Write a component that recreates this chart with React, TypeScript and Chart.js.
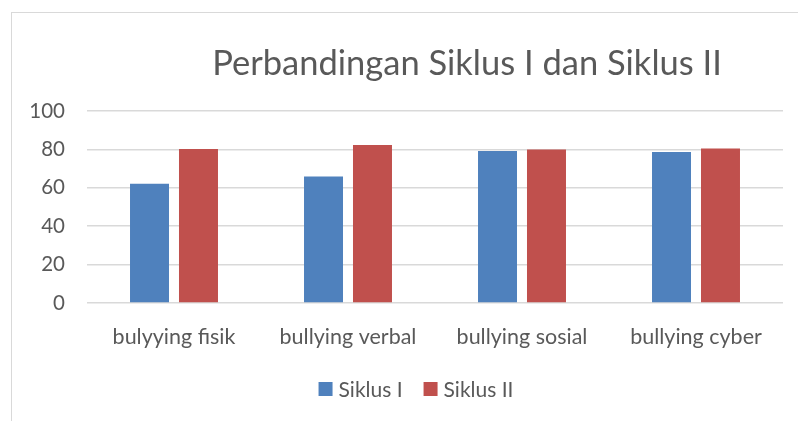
import { useEffect, useRef } from "react";
import { Chart, registerables } from "chart.js";
Chart.register(...registerables);

const categories = ["bulyying fisik", "bullying verbal", "bullying sosial", "bullying cyber"];
const siklusI = [62.1, 65.9, 79.2, 78.6];
const siklusII = [80.2, 82.3, 80.0, 80.5];
const seriesNames = ["Siklus I", "Siklus II"];
const seriesColors = ["#4F81BD", "#C0504D"];
const titleText = "Perbandingan Siklus I dan Siklus II";

const FONT = "Lato";
const TEXT = "#595959";

const decorPlugin = {
  id: "decor",
  beforeDraw(chart: any) {
    const ctx = chart.ctx;
    ctx.save();
    ctx.fillStyle = "#ffffff";
    ctx.fillRect(0, 0, chart.width, chart.height);
    ctx.strokeStyle = "#d9d9d9";
    ctx.lineWidth = 1;
    ctx.strokeRect(11.5, 12.5, 1000, 600);
    ctx.restore();
  },
  afterDraw(chart: any) {
    const ctx = chart.ctx;
    ctx.save();
    // title
    ctx.fillStyle = TEXT;
    ctx.font = `34.5px ${FONT}`;
    ctx.textAlign = "center";
    ctx.textBaseline = "alphabetic";
    ctx.fillText(titleText, 467, 75);
    // legend
    ctx.font = `21px ${FONT}`;
    ctx.textAlign = "left";
    ctx.textBaseline = "middle";
    const box = 14, gapText = 6, gapItem = 21;
    const items = chart.data.datasets.map((d: any) => ({ label: d.label, color: d.backgroundColor, w: ctx.measureText(d.label).width }));
    const total = items.reduce((s: number, it: any) => s + box + gapText + it.w, 0) + gapItem * (items.length - 1);
    let x = 416 - total / 2;
    const cy = 389;
    items.forEach((it: any) => {
      ctx.fillStyle = it.color;
      ctx.fillRect(x, cy - box / 2, box, box);
      x += box + gapText;
      ctx.fillStyle = TEXT;
      ctx.fillText(it.label, x, cy + 1);
      x += it.w + gapItem;
    });
    ctx.restore();
  },
};

export default function App() {
  const ref = useRef<HTMLCanvasElement>(null);
  useEffect(() => {
    if (!ref.current) return;
    const chart = new Chart(ref.current, {
      type: "bar",
      data: {
        labels: categories,
        datasets: [
          { label: seriesNames[0], data: siklusI, backgroundColor: seriesColors[0], barPercentage: 0.796, categoryPercentage: 0.563 },
          { label: seriesNames[1], data: siklusII, backgroundColor: seriesColors[1], barPercentage: 0.796, categoryPercentage: 0.563 },
        ],
      },
      options: {
        animation: false,
        responsive: false,
        layout: { padding: { top: 111, right: 15, left: 0, bottom: 0 } },
        plugins: { legend: { display: false }, title: { display: false }, tooltip: { enabled: false } },
        scales: {
          x: {
            grid: { display: false },
            border: { display: false },
            ticks: { color: TEXT, font: { family: FONT, size: 21.5 }, padding: 13, maxRotation: 0 },
            afterFit: (s: any) => { s.height = 118; },
          },
          y: {
            min: 0,
            max: 100,
            ticks: { stepSize: 20, color: TEXT, font: { family: FONT, size: 20.5 }, padding: 22 },
            grid: { color: "#d9d9d9", lineWidth: 1.5, drawTicks: false },
            border: { display: false },
            afterFit: (s: any) => { s.width = 87; },
          },
        },
      },
      plugins: [decorPlugin],
    });
    return () => chart.destroy();
  }, []);
  return (
    <div style={{ position: "fixed", left: 0, top: 0, width: 798, height: 421, background: "#fff" }}>
      <canvas ref={ref} width={798} height={421} style={{ width: 798, height: 421, display: "block" }} />
    </div>
  );
}
